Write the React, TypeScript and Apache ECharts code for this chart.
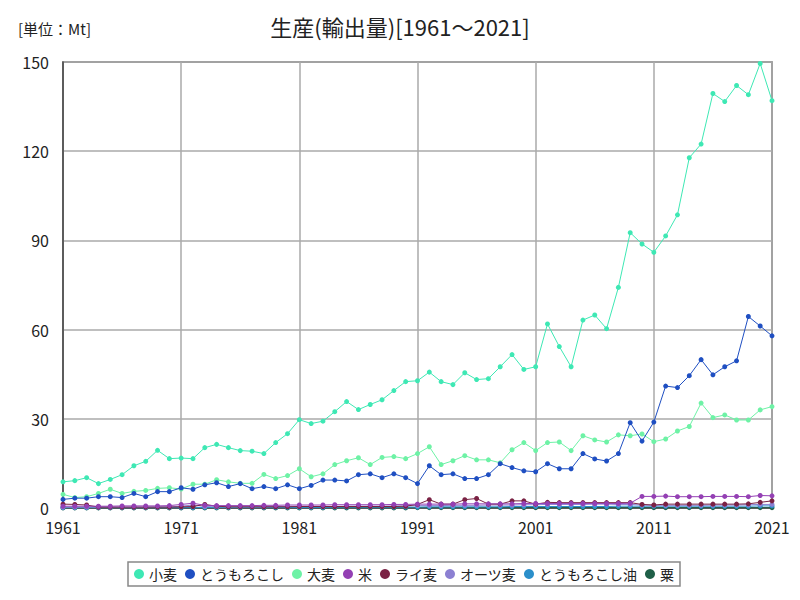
import React, { useEffect, useRef } from "react";
import * as echarts from "echarts";

const years: string[] = [];
for (let y = 1961; y <= 2021; y++) years.push(String(y));

const seriesNames = ["小麦", "とうもろこし", "大麦", "米", "ライ麦", "オーツ麦", "とうもろこし油", "粟"];
const seriesColors = ["#3ee8b4", "#1f4fc2", "#6ef2a6", "#9440b4", "#7a2244", "#8c80d2", "#2b8fca", "#1f5f48"];

const wheat = [
  8.8, 9.2, 10.2, 8.2, 9.6, 11.2, 14.2, 15.7, 19.4, 16.6,
  16.8, 16.6, 20.3, 21.4, 20.3, 19.3, 19.1, 18.3, 22.0, 25.0,
  29.7, 28.4, 29.2, 32.4, 35.8, 33.1, 34.8, 36.4, 39.5, 42.5,
  42.8, 45.7, 42.5, 41.5, 45.5, 43.2, 43.5, 47.5, 51.6, 46.6,
  47.5, 61.9, 54.3, 47.5, 63.2, 64.9, 60.3, 74.2, 92.6, 88.8,
  86.0, 91.5, 98.6, 117.8, 122.4, 139.4, 136.7, 142.1, 139.0, 149.5,
  137.0,
];
const corn = [
  2.9, 3.3, 3.3, 3.8, 3.8, 3.5, 4.9, 3.8, 5.5, 5.5,
  6.8, 6.3, 7.8, 8.5, 7.2, 8.2, 6.5, 7.2, 6.5, 7.8,
  6.5, 7.6, 9.4, 9.4, 9.1, 11.2, 11.5, 10.2, 11.5, 10.2,
  8.2, 14.2, 11.2, 11.5, 9.9, 9.9, 11.2, 14.9, 13.6, 12.5,
  12.2, 14.9, 13.2, 13.2, 18.3, 16.5, 15.8, 18.3, 28.7, 22.5,
  28.9, 41.0, 40.5, 44.5, 49.9, 44.8, 47.5, 49.5, 64.4, 61.2,
  57.9,
];
const barley = [
  4.6, 3.5, 3.8, 4.9, 6.3, 4.9, 5.6, 5.9, 6.6, 6.8,
  6.4, 8.0, 8.0, 9.5, 8.8, 8.3, 8.3, 11.3, 9.9, 10.9,
  13.2, 10.5, 11.5, 14.6, 15.9, 16.9, 14.6, 17.0, 17.3, 16.6,
  18.3, 20.6, 14.6, 15.9, 17.6, 16.2, 16.2, 15.2, 19.6, 22.0,
  19.3, 22.0, 22.2, 19.3, 24.3, 22.9, 22.2, 24.6, 24.3, 24.9,
  22.3, 23.2, 25.9, 27.4, 35.3, 30.4, 31.3, 29.6, 29.6, 33.0,
  34.1,
];
const rice = [
  0.6, 0.6, 0.6, 0.6, 0.6, 0.7, 0.7, 0.7, 0.7, 0.8,
  1.2, 1.6, 0.9, 0.8, 0.8, 0.8, 0.8, 0.9, 0.9, 1.0,
  1.0, 1.0, 1.0, 1.1, 1.1, 1.1, 1.1, 1.1, 1.2, 1.2,
  1.3, 1.3, 1.3, 1.3, 1.4, 1.4, 1.4, 1.4, 1.4, 1.5,
  1.5, 1.5, 1.5, 1.5, 1.5, 1.5, 1.5, 1.5, 1.6, 3.9,
  3.9, 4.0, 3.8, 3.8, 3.8, 3.9, 3.9, 3.9, 3.8, 4.2,
  4.1,
];
const rye = [
  1.3, 1.2, 1.0, 0.3, 0.3, 0.3, 0.3, 0.3, 0.3, 0.3,
  0.4, 0.5, 1.2, 0.6, 0.4, 0.4, 0.4, 0.4, 0.4, 0.4,
  0.5, 0.5, 0.5, 0.5, 0.5, 0.5, 0.5, 0.5, 0.5, 0.6,
  1.2, 2.8, 1.3, 1.3, 2.8, 3.2, 1.3, 1.3, 2.4, 2.4,
  1.3, 1.9, 1.8, 1.8, 1.8, 1.8, 1.8, 1.8, 1.8, 1.2,
  1.0, 1.3, 1.3, 1.3, 1.3, 1.3, 1.3, 1.3, 1.4, 1.9,
  2.4,
];
const oats = [
  0.3, 0.3, 0.3, 0.3, 0.3, 0.3, 0.3, 0.3, 0.4, 0.4,
  0.6, 1.0, 0.5, 0.4, 0.4, 0.4, 0.4, 0.4, 0.5, 0.5,
  0.5, 0.5, 0.5, 0.5, 0.6, 0.6, 0.6, 0.6, 0.7, 0.7,
  0.8, 0.8, 0.8, 0.9, 0.9, 0.9, 1.0, 1.0, 1.0, 1.1,
  1.1, 1.2, 1.2, 1.2, 1.2, 1.3, 1.3, 1.2, 1.2, 1.0,
  0.9, 0.9, 0.9, 0.9, 0.9, 1.0, 1.0, 1.0, 1.1, 1.2,
  1.2,
];
const cornOil = [
  0.1, 0.1, 0.1, 0.1, 0.1, 0.1, 0.1, 0.1, 0.1, 0.1,
  0.1, 0.1, 0.2, 0.2, 0.2, 0.2, 0.2, 0.2, 0.2, 0.2,
  0.2, 0.2, 0.2, 0.3, 0.3, 0.3, 0.3, 0.3, 0.3, 0.3,
  0.3, 0.4, 0.4, 0.4, 0.4, 0.4, 0.4, 0.4, 0.5, 0.5,
  0.5, 0.5, 0.5, 0.5, 0.5, 0.5, 0.5, 0.6, 0.6, 0.6,
  0.6, 0.6, 0.6, 0.6, 0.6, 0.6, 0.6, 0.6, 0.6, 0.7,
  0.7,
];
const millet = [
  0.05, 0.05, 0.05, 0.05, 0.05, 0.05, 0.05, 0.05, 0.05, 0.05,
  0.05, 0.05, 0.05, 0.05, 0.05, 0.05, 0.05, 0.05, 0.05, 0.05,
  0.05, 0.05, 0.05, 0.05, 0.05, 0.05, 0.05, 0.05, 0.05, 0.05,
  0.1, 0.1, 0.1, 0.1, 0.1, 0.1, 0.1, 0.1, 0.1, 0.1,
  0.1, 0.1, 0.1, 0.1, 0.1, 0.1, 0.1, 0.1, 0.1, 0.1,
  0.1, 0.1, 0.1, 0.1, 0.1, 0.1, 0.1, 0.1, 0.1, 0.1,
  0.1,
];

const allData = [wheat, corn, barley, rice, rye, oats, cornOil, millet];

const FONT = "'Noto Sans CJK JP', 'Noto Sans', sans-serif";

export default function App() {
  const ref = useRef<HTMLDivElement>(null);
  useEffect(() => {
    if (!ref.current) return;
    const chart = echarts.init(ref.current, undefined, { renderer: "svg" });
    const series = seriesNames.map((name, i) => ({
      name,
      type: "line",
      data: allData[i],
      symbol: "circle",
      symbolSize: 5,
      showSymbol: true,
      lineStyle: { width: 1, color: seriesColors[i] },
      itemStyle: { color: seriesColors[i] },
      z: 10 - i,
    }));
    chart.setOption({
      animation: false,
      backgroundColor: "#ffffff",
      textStyle: { fontFamily: FONT },
      title: [
        {
          text: "生産(輸出量)[1961～2021]",
          left: "center",
          top: 10,
          textStyle: { fontSize: 22, fontWeight: "normal", color: "#222", fontFamily: FONT },
        },
        {
          text: "[単位：Mt]",
          left: 13,
          top: 16,
          textStyle: { fontSize: 15, fontWeight: "normal", color: "#222", fontFamily: FONT },
        },
      ],
      legend: {
        data: seriesNames,
        left: 128,
        top: 562,
        icon: "circle",
        itemWidth: 10,
        itemHeight: 10,
        itemGap: 8,
        padding: [5, 6],
        borderColor: "#888",
        borderWidth: 1.5,
        textStyle: { fontSize: 14, color: "#222", fontFamily: FONT },
      },
      grid: {
        left: 63,
        right: 28,
        top: 62,
        bottom: 92,
        show: true,
        borderColor: "#666",
        borderWidth: 1.5,
      },
      xAxis: {
        type: "category",
        data: years,
        boundaryGap: false,
        axisLine: { lineStyle: { color: "#444", width: 1.5 } },
        axisTick: { show: false },
        axisLabel: { interval: 9, fontSize: 16, color: "#222", margin: 11, fontFamily: FONT },
        splitLine: { show: true, interval: 9, lineStyle: { color: "#aaa", width: 1.5 } },
      },
      yAxis: {
        type: "value",
        min: 0,
        max: 150,
        interval: 30,
        axisLine: { show: true, lineStyle: { color: "#444", width: 1.5 } },
        axisTick: { show: false },
        axisLabel: { fontSize: 16, color: "#222", margin: 14, fontFamily: FONT },
        splitLine: { show: true, lineStyle: { color: "#aaa", width: 1.5 } },
      },
      series,
    });
    return () => chart.dispose();
  }, []);
  return <div ref={ref} style={{ width: 800, height: 600, position: "absolute", left: 0, top: 0 }} />;
}
